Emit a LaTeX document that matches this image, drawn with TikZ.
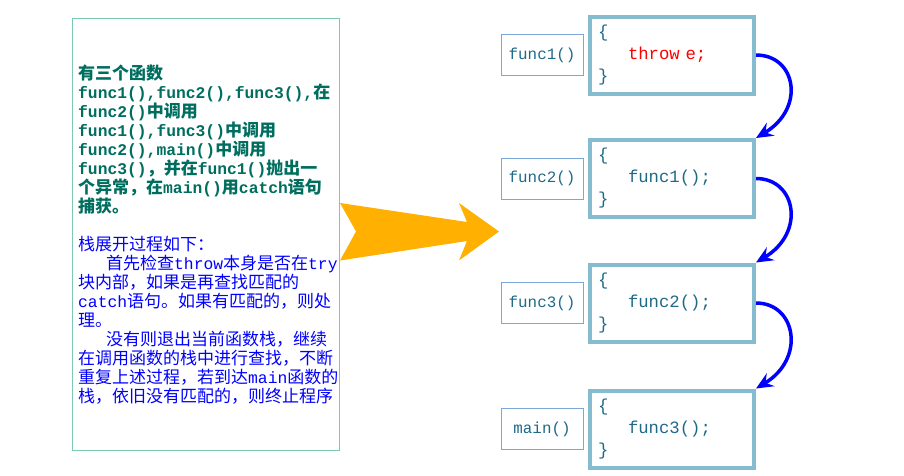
\documentclass[tikz,border=0pt]{standalone}
\usepackage{fontspec}
\setmainfont{Noto Sans CJK SC}
\setmonofont[Scale=0.96]{Liberation Mono}
\usetikzlibrary{arrows.meta}
\definecolor{framegreen}{RGB}{124,200,176}
\definecolor{textgreen}{RGB}{0,110,95}
\definecolor{stackblue}{RGB}{134,188,208}
\definecolor{labelblue}{RGB}{125,167,217}
\definecolor{codeteal}{RGB}{30,105,135}
\definecolor{bigorange}{RGB}{255,176,0}
\newcommand{\code}[1]{{\ttfamily #1}}
\tikzset{
  codebox/.style={draw=stackblue, line width=4pt, minimum width=164pt, minimum height=77pt,
    text width=148pt, inner xsep=8pt, inner ysep=0pt, align=left,
    font=\ttfamily\fontsize{18}{22}\selectfont, text=codeteal},
  namebox/.style={draw=labelblue, line width=1pt, minimum width=82pt, minimum height=41pt,
    inner sep=0pt, font=\ttfamily\fontsize{16.5}{16}\selectfont, text=codeteal},
  callarrow/.style={-{Stealth[length=17pt, width=15pt, inset=6pt]}, draw=blue, line width=3.5pt}
}
\begin{document}
\begin{tikzpicture}[x=1pt, y=-1pt]
	\useasboundingbox (0,0) rectangle (904,475);
	% explanation on the left
	\node [draw=framegreen, line width=1pt, minimum width=267pt, minimum height=432pt, inner sep=0pt] (intro) at (206,234.5) {};
	\node [anchor=west, inner sep=0pt] (introtext) at (78,234.5) {%
		\begin{minipage}{262pt}\raggedright\fontsize{17}{19}\selectfont
		\color{textgreen}\bfseries 有三个函数\\
		\code{func1(),func2(),func3(),}在\\
		\code{func2()}中调用\\
		\code{func1(),func3()}中调用\\
		\code{func2(),main()}中调用\\
		\code{func3()}，并在\code{func1()}抛出一\\
		个异常，在\code{main()}用\code{catch}语句\\
		捕获。\\[19pt]
		\color{blue}\mdseries 栈展开过程如下：\\
		\hspace*{28pt}首先检查\code{throw}本身是否在\code{try}\\
		块内部，如果是再查找匹配的\\
		\code{catch}语句。如果有匹配的，则处\\
		理。\\
		\hspace*{28pt}没有则退出当前函数栈，继续\\
		在调用函数的栈中进行查找，不断\\
		重复上述过程，若到达\code{main}函数的\\
		栈，依旧没有匹配的，则终止程序
		\end{minipage}};
	% big arrow
	\fill [bigorange] (340,203) -- (467,222) -- (459,203) -- (499,231.5) -- (459,260.5) -- (467,241) -- (340,260.5) -- (356,231.5) -- cycle;
	% call stack
	\node [codebox] (c1) at (672,55) {\{\\\hspace*{30pt}\textcolor{red}{throw\ e;}\\\}};
	\node [codebox] (c2) at (672,178.5) {\{\\\hspace*{30pt}func1();\\\}};
	\node [codebox] (c3) at (672,303) {\{\\\hspace*{30pt}func2();\\\}};
	\node [codebox] (c4) at (672,429) {\{\\\hspace*{30pt}func3();\\\}};
	\node [namebox] (n1) at (542,55) {func1()};
	\node [namebox] (n2) at (542,178.5) {func2()};
	\node [namebox] (n3) at (542,303) {func3()};
	\node [namebox] (n4) at (542,429) {main()};
	% unwinding
	\draw [callarrow] (c1.east) .. controls +(40,0) and +(50,-30) .. (c2.north east);
	\draw [callarrow] (c2.east) .. controls +(40,0) and +(50,-30) .. (c3.north east);
	\draw [callarrow] (c3.east) .. controls +(40,0) and +(50,-30) .. (c4.north east);
\end{tikzpicture}
\end{document}
